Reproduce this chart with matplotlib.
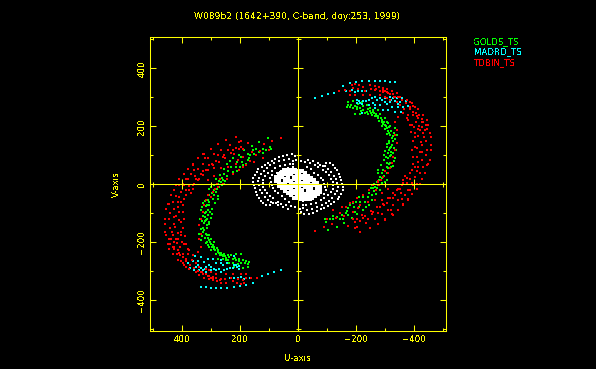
#!/usr/bin/env python3
"""UV coverage plot, W089b2 session."""

import matplotlib

matplotlib.use("Agg")
import matplotlib.pyplot as plt
import numpy as np
from matplotlib.ticker import MultipleLocator

TITLE = "W089b2 (1642+390, C-band, doy:253, 1999)"
STATIONS = ["GOLDS_TS", "MADRD_TS", "TDBIN_TS"]

# (u, v) samples, one half-plane only.
# The other half is the conjugate (-u, -v).
golds_uv = [
    (-174, 285), (-191, 287), (-168, 268), (-179, 265), (-191, 262), (-202, 265), (-214, 262),
    (-225, 256), (-237, 250), (-248, 253), (-260, 256), (-196, 241), (-214, 241), (-231, 245),
    (-254, 239), (-265, 236), (-277, 227), (-288, 216), (-300, 205), (-308, 193), (-315, 176),
    (-323, 159), (-315, 141), (-317, 124), (-311, 107), (-311, 90), (-306, 72), (-294, 49),
    (-283, 26), (-271, 9), (-254, -2), (-219, 285), (-237, 273), (-248, 262), (-277, 256),
    (-283, 242), (-300, 227), (-311, 210), (-334, 193), (-342, 170), (-340, 141), (-338, 118),
    (-334, 90), (-326, 63), (-306, 38), (-288, 21), (-300, 9), (-290, 200), (-300, 190),
    (-305, 175), (-312, 150), (-305, 130), (-300, 115), (-303, 95), (-320, 100), (-325, 135),
    (-328, 165), (-322, 185), (-312, 198), (-296, 215), (-285, 228), (-270, 243), (-258, 248),
    (-242, 260), (-225, 270), (-208, 276), (-295, 85), (-285, 65), (-275, 50), (-318, 75),
    (-310, 55), (-306, 15), (-288, 3), (-277, -2), (-257, -14), (-283, -20), (-269, -33),
    (-243, -29), (-254, -54), (-225, -43), (-243, -71), (-231, -60), (-214, -60), (-211, -77),
    (-223, -89), (-191, -66), (-194, -77), (-174, -83), (-168, -91), (-151, -106), (-174, -106),
    (-185, -117), (-202, -102), (-122, -109), (-122, -121), (-145, -121), (-160, -132),
    (-133, -146), (-105, -158), (-97, -129), (-93, -121), (-254, -37), (-265, -8),
    (-172, 275), (-183, 272), (-195, 270), (-205, 258), (-218, 253), (-240, 243), (-252, 246),
    (-262, 245), (-272, 236), (-280, 220), (-292, 208), (-302, 200), (-310, 185), (-318, 170),
    (-327, 150), (-322, 128), (-312, 118), (-316, 96), (-328, 108), (-332, 80), (-322, 58),
    (-314, 70), (-300, 45), (-288, 38), (-296, 30), (-280, 15), (-262, 2), (-275, 40),
    (-305, 60), (-298, 102), (-308, 138), (-320, 112), (-330, 125), (-336, 155), (-330, 178),
    (-316, 202), (-306, 215), (-290, 222), (-275, 235), (-240, -45), (-262, -22), (-210, -45),
    (-200, -60), (-235, -80), (-180, -70), (-165, -100), (-155, -118), (-135, -112), (-110, -120),
    (-195, -95), (-250, -12), (-272, -12),
]
madrd_uv = [
    (-59, 296), (-82, 304), (-105, 311), (-124, 316), (-154, 340), (-179, 348), (-200, 352),
    (-222, 355), (-245, 357), (-265, 357), (-283, 357), (-300, 356), (-317, 354), (-334, 353),
    (-164, 323), (-185, 325), (-208, 323), (-234, 322), (-202, 291), (-225, 288), (-246, 291),
    (-265, 302), (-283, 296), (-300, 296), (-317, 302), (-340, 296), (-357, 296), (-372, 288),
    (-202, 281), (-219, 277), (-246, 273), (-265, 273), (-283, 273), (-300, 285), (-317, 285),
    (-334, 287), (-352, 285), (-219, 247), (-265, 262), (-294, 256), (-311, 256), (-334, 250),
    (-354, 248), (-346, 265), (-363, 265), (-380, 270), (-319, 291), (-308, 277), (-288, 291),
    (-234, 288), (-255, 296), (-272, 292), (-328, 296), (-345, 278), (-325, 268), (-258, 280),
    (-210, 286), (-195, 320), (-222, 322), (-212, 280),
]
tdbin_uv = [
    (-143, 322), (-162, 324), (-185, 342), (-196, 345), (-211, 342), (-225, 334), (-248, 342),
    (-265, 339), (-280, 334), (-294, 331), (-308, 327), (-323, 322), (-340, 314), (-352, 302),
    (-375, 291), (-392, 279), (-403, 265), (-415, 260), (-432, 239), (-444, 222), (-449, 205),
    (-455, 176), (-460, 164), (-459, 136), (-459, 118), (-455, 84), (-449, 69), (-438, 38),
    (-426, 18), (-411, 1), (-421, 1), (-395, -2), (-409, -17), (-394, -35), (-380, -20),
    (-380, -54), (-363, -71), (-344, -89), (-326, -106), (-300, -123), (-277, -138), (-248, -152),
    (-214, -163), (-174, -144), (-59, -160), (-90, -148),
    (-386, 265), (-398, 239), (-400, 199), (-403, 164), (-403, 130), (-409, 95), (-403, 61),
    (-386, 38), (-377, 21), (-363, 3), (-415, 227), (-426, 199), (-434, 164), (-426, 136),
    (-426, 113), (-426, 84), (-415, 61), (-403, 26), (-392, 3), (-334, 216), (-340, 187),
    (-340, 141), (-334, 118), (-323, 72), (-311, 38), (-294, 26), (-277, 9), (-421, 187),
    (-423, 147), (-411, 124), (-398, 95), (-415, 78), (-446, 67), (-392, 205), (-403, 176),
    (-418, 201), (-430, 176), (-438, 187), (-294, 319), (-311, 316), (-329, 311), (-294, 325),
    (-265, 325), (-251, 327), (-231, 323), (-208, 327), (-191, 331), (-179, 323), (-248, 308),
    (-225, 308), (-196, 308), (-179, 308), (-352, 273), (-363, 245), (-375, 227), (-380, 222),
    (-386, 205), (-386, 259), (-398, 250), (-409, 236), (-426, 224), (-334, 302), (-340, 285),
    (-317, 291), (-306, 296), (-283, 308), (-306, 317), (-300, 302), (-363, 15), (-375, 6),
    (-357, -2), (-352, -17), (-369, -37), (-386, -20), (-334, -37), (-326, -31), (-317, -48),
    (-311, -48), (-326, -46), (-298, -71), (-294, -68), (-273, -77), (-283, -79), (-329, -71),
    (-363, -68), (-346, -54), (-380, -52), (-311, -89), (-325, -104), (-346, -89), (-300, -121),
    (-288, -104), (-277, -138), (-257, -94), (-250, -92), (-231, -109), (-219, -106), (-225, -117),
    (-254, -102), (-234, -135), (-205, -146), (-202, -121), (-197, -129), (-191, -121),
    (-151, -77), (-122, -89), (-116, -138), (-243, -20), (-260, -2), (-279, -2), (-277, 11),
    (-179, -66), (-202, -48), (-225, -37), (-208, -83), (-191, -94),
    (-270, 330), (-282, 322), (-300, 322), (-318, 310), (-330, 302), (-345, 300), (-360, 290),
    (-372, 280), (-385, 285), (-395, 270), (-405, 245), (-418, 240), (-430, 215), (-440, 205),
    (-408, 215), (-412, 190), (-428, 215), (-445, 190), (-415, 168), (-440, 150), (-445, 120),
    (-440, 100), (-432, 60), (-420, 40), (-410, 45), (-395, 70), (-392, 50), (-385, 20),
    (-370, 30), (-420, 110), (-392, 120), (-395, 150), (-390, 180), (-380, 240), (-365, 260),
    (-345, 232), (-335, 170), (-328, 95), (-318, 55), (-300, 45), (-285, 15), (-345, -15),
    (-340, -20), (-360, -50), (-355, -30), (-305, -65), (-290, -55), (-320, -90), (-275, -100),
    (-265, -120), (-240, -120), (-215, -125), (-195, -150), (-160, -110), (-145, -100),
    (-130, -115), (-100, -120), (-240, -60), (-215, -70), (-190, -60), (-165, -80), (-270, -20),
    (-290, -30), (-310, -15), (-265, -55),
]
# short baselines: rings around the centre
other_uv = [
    (22, 104), (39, 101), (51, 98), (64, 93), (79, 86), (91, 81), (102, 75), (114, 67), (125, 61),
    (137, 52), (143, 44), (148, 32), (154, 21), (156, 9), (152, -2), (149, -14), (145, -25),
    (140, -37), (133, -48), (129, -56), (120, -65), (110, -73), (97, -73), (85, -63), (68, -73),
    (51, -79), (33, -85), (16, 70), (28, 70), (45, 67), (62, 63), (79, 55), (91, 47), (102, 38),
    (114, 27), (120, 15), (122, 4), (120, -8), (114, -19), (108, -31), (97, -42), (85, -48),
    (68, -60), (91, 32), (97, 21), (94, 9), (91, -2), (85, -14), (79, -22), (68, -31), (56, -40),
    (45, -52), (30, -60), (62, 44), (74, 38), (51, 52), (33, 55), (16, 58),
    (30, 88), (48, 84), (66, 79), (82, 72), (95, 66), (106, 57), (118, 46), (128, 35), (135, 22),
    (138, 10), (135, -4), (130, -18), (124, -30), (115, -44), (104, -54), (92, -62), (75, -65),
    (58, -68), (42, -72), (25, -76), (10, -80), (8, 84), (18, 82), (10, 96),
]
# dense core, gaps left where the picture has them
core_uv = [
    (10, 50), (20, 50), (30, 50), (40, 50), (5, 42), (15, 42), (25, 42), (35, 42), (45, 42),
    (55, 42), (5, 34), (25, 34), (35, 34), (45, 34), (55, 34), (65, 34), (5, 26),
    (15, 26), (35, 26), (55, 26), (65, 26), (75, 26), (5, 18), (15, 18), (35, 18),
    (45, 18), (65, 18), (75, 18), (5, 10), (25, 10), (35, 10), (45, 10),
    (65, 10), (75, 10), (5, 2), (15, 2), (25, 2), (45, 2), (55, 2), (65, 2), (5, -6),
    (15, -6), (25, -6), (35, -6), (55, -6), (65, -6), (5, -14), (25, -14),
    (35, -14), (45, -14), (55, -14), (5, -22), (15, -22), (25, -22), (45, -22),
    (5, -30), (15, -30), (25, -30), (35, -30), (5, -38), (25, -38), (5, -46), (15, -46),
]

YELLOW = "#ffff00"
STATION_COLORS = ["#00ff00", "#00ffff", "#ff0000"]
W, H = 596, 369


def both_halves(pairs):
    arr = np.array(pairs, dtype=float)
    return np.r_[arr[:, 0], -arr[:, 0]], np.r_[arr[:, 1], -arr[:, 1]]


def main():
    plt.rcParams["font.family"] = "DejaVu Sans"
    plt.rcParams["font.size"] = 6.2
    plt.rcParams["text.antialiased"] = False

    fig = plt.figure(figsize=(W / 100, H / 100), dpi=100, facecolor="black")
    ax = fig.add_axes([150.3 / W, 1 - 331.3 / H, 295.4 / W, 294 / H], facecolor="black")

    u, v = both_halves(other_uv)
    ax.scatter(u, v, s=0.6, marker="s", color="white", linewidths=0, antialiased=False)
    u, v = both_halves(core_uv)
    ax.scatter(u, v, s=5.0, marker="s", color="white", linewidths=0, antialiased=False)
    for pairs, color in zip([golds_uv, madrd_uv, tdbin_uv], STATION_COLORS):
        u, v = both_halves(pairs)
        ax.scatter(u, v, s=0.6, marker="s", color=color, linewidths=0, antialiased=False)

    ax.set_xlim(509, -509)
    ax.set_ylim(-507, 507)

    # zero axes with their own ticks
    ax.axhline(0, color=YELLOW, lw=0.75, zorder=5)
    ax.axvline(0, color=YELLOW, lw=0.75, zorder=5)
    major = np.array([-400, -200, 200, 400])
    minor = np.array([-500, -300, -100, 100, 300, 500])
    for ticks, size in [(major, 6.5), (minor, 3.6)]:
        zeros = np.zeros_like(ticks)
        ax.plot(ticks, zeros, ls="none", marker="|", ms=size, mew=0.75, color=YELLOW, zorder=5)
        ax.plot(zeros, ticks, ls="none", marker="_", ms=size, mew=0.75, color=YELLOW, zorder=5)

    for spine in ax.spines.values():
        spine.set_color(YELLOW)
        spine.set_linewidth(0.75)
    for axis in (ax.xaxis, ax.yaxis):
        axis.set_major_locator(MultipleLocator(200))
        axis.set_minor_locator(MultipleLocator(100))
    ax.tick_params(which="major", direction="in", top=True, right=True, length=4, width=0.75,
                   color=YELLOW, labelcolor=YELLOW, labelsize=6.2, pad=3)
    ax.tick_params(which="minor", direction="in", top=True, right=True, length=2, width=0.75,
                   color=YELLOW)
    for label in ax.get_yticklabels():
        label.set_rotation(90)
        label.set_va("center")

    fig.text(297 / W, 1 - 16.5 / H, TITLE, color=YELLOW, ha="center", va="center", fontsize=6.6)
    fig.text(298 / W, 1 - 358.5 / H, "U-axis", color=YELLOW, ha="center", va="center")
    fig.text(116 / W, 1 - 184 / H, "V-axis", color=YELLOW, ha="center", va="center", rotation=90)
    for name, color, y in zip(STATIONS, STATION_COLORS, [41.5, 52, 62.5]):
        fig.text(474 / W, 1 - y / H, name, color=color, ha="left", va="center")

    fig.savefig("out.png", dpi=100, facecolor="black")


if __name__ == "__main__":
    main()
